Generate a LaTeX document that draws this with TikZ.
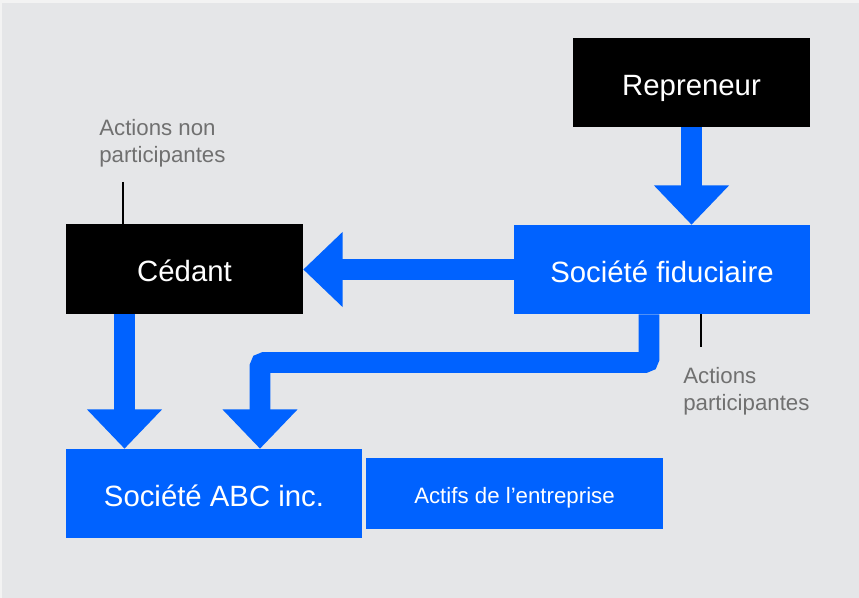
\documentclass[tikz,border=0pt]{standalone}
\usepackage{fontspec}
\setmainfont{Liberation Sans}
\usetikzlibrary{arrows.meta}
\definecolor{bgray}{HTML}{E5E6E8}
\definecolor{outerc}{HTML}{F3F3F3}
\definecolor{bblue}{HTML}{0062FF}
\definecolor{tgray}{HTML}{707070}
\tikzset{
  x=0.75pt, y=-0.75pt,
  boxbase/.style={inner sep=0pt, text=white, text depth=0pt},
  blackbox/.style={boxbase, fill=black},
  bluebox/.style={boxbase, fill=bblue},
  bigtext/.style={font=\fontsize{22}{26}\selectfont, text height=19pt},
  smalltext/.style={font=\fontsize{16.7}{20}\selectfont, text height=14.25pt},
  lbl/.style={inner sep=0pt, text=tgray, align=left, font=\fontsize{16.7}{20.25}\selectfont},
  bigarrow/.style={draw=bblue, line width=15.4pt, line cap=butt,
    -{Triangle[width=54.5pt, length=29.5pt]}},
  leader/.style={draw=black, line width=1.5pt}
}
\begin{document}
\begin{tikzpicture}
\useasboundingbox (0,0) rectangle (859,598);
\fill[outerc] (0,0) rectangle (859,598);
\fill[bgray] (2,3) rectangle (859,598);

% boxes
\node[blackbox, bigtext, minimum width=177.75pt, minimum height=66.75pt] (rep) at (691.5,82.5) {Repreneur};
\node[bluebox, bigtext, minimum width=222pt, minimum height=66.75pt] (fid) at (662,269.5) {Société fiduciaire};
\node[blackbox, bigtext, minimum width=177.75pt, minimum height=66.75pt] (ced) at (184.5,269) {Cédant};
\node[bluebox, bigtext, minimum width=222pt, minimum height=66.75pt] (abc) at (214,493.5) {Société ABC inc.};
\node[bluebox, smalltext, minimum width=222.75pt, minimum height=53.25pt] (act) at (514.5,493.5) {Actifs de l’entreprise};

% labels (base anchor = baseline of last line)
\node[lbl, anchor=base west] (lnp) at (99,163) {Actions non\\participantes};
\node[lbl, anchor=base west] (lp) at (683,410) {Actions\\participantes};

% leader lines
\coordinate (t1) at (123,182);
\draw[leader] (t1) -- (t1 |- ced.north);
\coordinate (t2) at (701,347);
\draw[leader] (fid.south -| t2) -- (t2);

% arrows
\draw[bigarrow] (rep.south) -- (rep.south |- fid.north);
\draw[bigarrow] (fid.west) -- (fid.west -| ced.east);
\coordinate (c1) at (124.5,400);
\draw[bigarrow] (ced.south -| c1) -- (abc.north -| c1);
\coordinate (b1) at (649,362.5);
\coordinate (b2) at (260,362.5);
\draw[bigarrow, rounded corners=3pt] (fid.south -| b1) -- (b1) -- (b2) -- (abc.north -| b2);
\end{tikzpicture}
\end{document}
